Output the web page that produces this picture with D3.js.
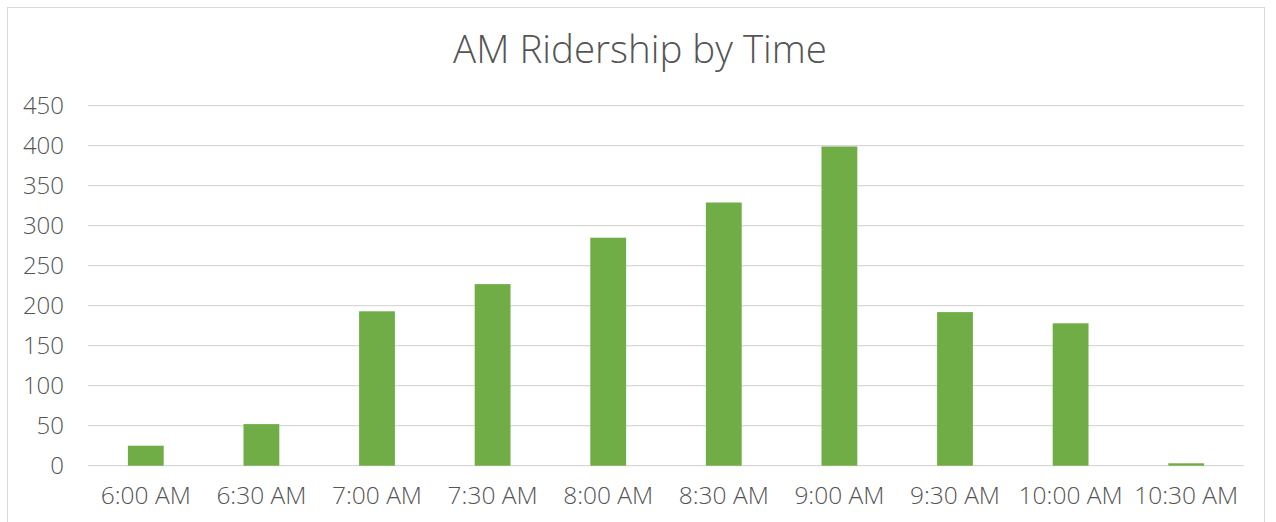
<!DOCTYPE html>
<html><head><meta charset="utf-8">
<script src="https://cdn.jsdelivr.net/npm/d3@7"></script>
<style>body{margin:0;background:#fff;} svg{display:block;}</style>
</head><body><svg id="c" width="1276" height="522"></svg>
<script>
const categories = ["6:00 AM","6:30 AM","7:00 AM","7:30 AM","8:00 AM","8:30 AM","9:00 AM","9:30 AM","10:00 AM","10:30 AM"];
const riders = [25, 52, 193, 227, 285, 329, 399, 192, 178, 3];
const yTicks = [0,50,100,150,200,250,300,350,400,450];
const title = "AM Ridership by Time";

const svg = d3.select("#c");
const m = {left: 88, right: 1244, top: 105.7, bottom: 465.7};
const font = "'Open Sans', sans-serif";
const textColor = "#555555";

svg.append("rect").attr("x",7.5).attr("y",7.5).attr("width",1257).attr("height",530)
  .attr("fill","#fff").attr("stroke","#d9d9d9").attr("stroke-width",1);

const x = d3.scaleBand().domain(categories).range([m.left, m.right]).paddingInner(0.69).paddingOuter(0.345);
const y = d3.scaleLinear().domain([0,450]).range([m.bottom, m.top]);

svg.append("g").selectAll("line").data(yTicks).join("line")
  .attr("x1", m.left).attr("x2", m.right)
  .attr("y1", d=>y(d)).attr("y2", d=>y(d))
  .attr("stroke","#d9d9d9").attr("stroke-width",1.3);

svg.append("g").selectAll("rect").data(riders).join("rect")
  .attr("x",(d,i)=>x(categories[i]))
  .attr("width", x.bandwidth())
  .attr("y", d=>y(d))
  .attr("height", d=>y(0)-y(d))
  .attr("fill","#70ad47");

const yAxis = d3.axisLeft(y).tickValues(yTicks).tickSize(0).tickPadding(24);
const ya = svg.append("g").attr("transform",`translate(${m.left},0)`).call(yAxis);
ya.select(".domain").remove();
ya.selectAll("text").attr("font-family",font).attr("font-size",24).attr("font-weight",300).attr("fill",textColor);

const xAxis = d3.axisBottom(x).tickSize(0).tickPadding(21);
const xa = svg.append("g").attr("transform",`translate(0,${m.bottom})`).call(xAxis);
xa.select(".domain").remove();
xa.selectAll("text").attr("font-family",font).attr("font-size",24.5).attr("font-weight",300).attr("fill",textColor);

svg.append("text").attr("x",640).attr("y",63).attr("text-anchor","middle")
  .attr("font-family",font).attr("font-size",38.5).attr("font-weight",300).attr("fill",textColor).text(title);
</script></body></html>
